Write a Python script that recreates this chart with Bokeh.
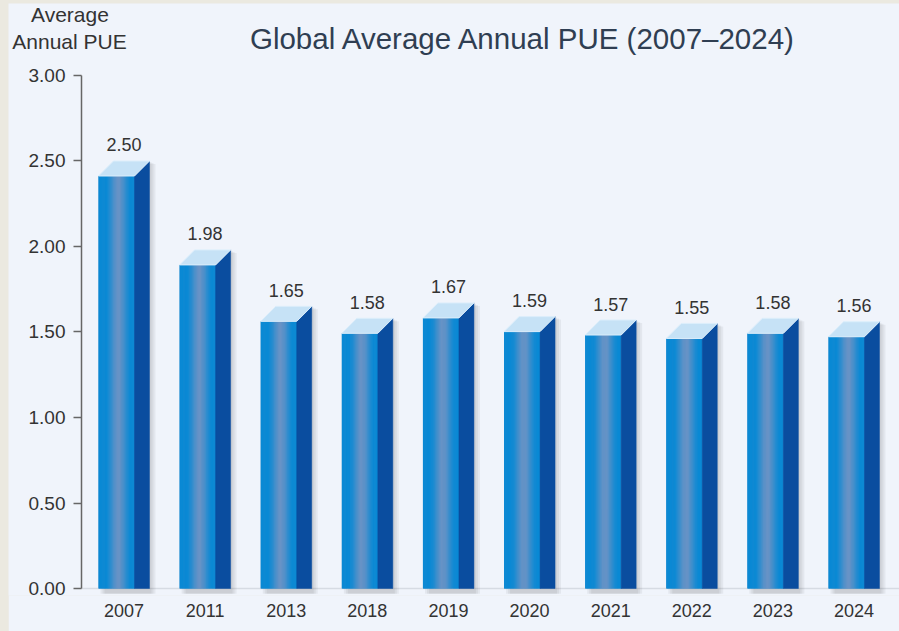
from bokeh.plotting import figure
from bokeh.models import FixedTicker, NumeralTickFormatter
from bokeh.embed import file_html
from bokeh.resources import INLINE
from bokeh.core.properties import value

# ---- data ----
years = ["2007", "2011", "2013", "2018", "2019", "2020", "2021", "2022", "2023", "2024"]
pue = [2.50, 1.98, 1.65, 1.58, 1.67, 1.59, 1.57, 1.55, 1.58, 1.56]
y_ticks = [0.0, 0.5, 1.0, 1.5, 2.0, 2.5, 3.0]
title_text = "Global Average Annual PUE (2007\u20132024)"
y_title_lines = ["Average", "Annual PUE"]

# ---- layout ----
W, H = 891, 628
MB_B = 36
X0, X1 = -1.424, 9.561
Y0, Y1 = -0.0409, 3.421
AXIS_X = -0.524
FONT = "Liberation Sans"
BG = "#F0F4FB"

p = figure(width=W, height=H, x_range=(X0, X1), y_range=(Y0, Y1),
           output_backend="svg", toolbar_location=None,
           min_border_left=0, min_border_right=0,
           min_border_top=0, min_border_bottom=MB_B)
p.background_fill_color = BG
p.border_fill_color = BG
p.outline_line_color = None
p.grid.visible = False

px_x = W / (X1 - X0)            # pixels per x unit
px_y = (H - MB_B) / (Y1 - Y0)   # pixels per y unit

def ux(px):
    return px / px_x

def uy(px):
    return px / px_y

xs = list(range(len(years)))
front_l = ux(-25.5)
front_r = ux(10.5)
depth_x = ux(15)
depth_y = uy(15)

# baseline shadow line
p.line(x=[AXIS_X, X1], y=[0, 0], line_color="#D6DBE3", line_width=1.5)

# soft shadows
for sx, sy in [(2, 1), (4, 2), (6, 3)]:
    sxs, sys_ = [], []
    for c, v in zip(xs, pue):
        L = c + front_l + ux(sx)
        R = c + front_r + depth_x + ux(sx)
        top = v - uy(sy)
        sxs.append([L, L, L + depth_x, R, R])
        sys_.append([-0.03, top - depth_y, top, top, -0.03])
    p.patches(xs=sxs, ys=sys_, fill_color="black", fill_alpha=0.05, line_color=None)

# front faces: base + gradient strips
bright = (10, 137, 212)
muted = (104, 147, 198)

def front_color(t):
    w = max(0.0, 1.0 - abs(t - 0.55) / 0.36)
    w = w * w * (3 - 2 * w)
    r, g, b = [int(round(a + (m - a) * w)) for a, m in zip(bright, muted)]
    return "#%02x%02x%02x" % (r, g, b)

p.quad(left=[c + front_l for c in xs], right=[c + front_r for c in xs],
       bottom=[0] * len(xs), top=[v - depth_y for v in pue],
       fill_color="#3A8CCB", line_color=None)

N = 30
ql, qr, qb, qt, qc = [], [], [], [], []
for c, v in zip(xs, pue):
    L = c + front_l
    step = (front_r - front_l) / N
    for k in range(N):
        ql.append(L + k * step)
        qr.append(L + (k + 1) * step + step * 0.3)
        qb.append(0)
        qt.append(v - depth_y)
        qc.append(front_color((k + 0.5) / N))
p.quad(left=ql, right=qr, bottom=qb, top=qt, fill_color=qc, line_color=None)

# side and top faces
side_xs, side_ys, top_xs, top_ys = [], [], [], []
for c, v in zip(xs, pue):
    L = c + front_l
    M = c + front_r
    side_xs.append([M, M, M + depth_x, M + depth_x])
    side_ys.append([0, v - depth_y, v, 0])
    top_xs.append([L, M, M + depth_x, L + depth_x])
    top_ys.append([v - depth_y, v - depth_y, v, v])
p.patches(xs=side_xs, ys=side_ys, fill_color="#0A4D9F", line_color="#0A4D9F", line_width=0.5)
p.patches(xs=top_xs, ys=top_ys, fill_color="#C6E2F6", line_color="#DCEEFB", line_width=1)

# value labels
p.text(x=xs, y=[v + uy(16) for v in pue], text=["%.2f" % v for v in pue],
       text_align="center", text_baseline="middle",
       text_font=value(FONT), text_font_size="18px", text_color="#333333")

# y axis, fixed inside the frame
yax = p.yaxis[0]
yax.fixed_location = AXIS_X
yax.ticker = FixedTicker(ticks=y_ticks)
yax.formatter = NumeralTickFormatter(format="0.00")
yax.bounds = (0, 3)
yax.major_tick_in = 0
yax.major_tick_out = 8
yax.minor_tick_line_color = None
yax.axis_line_color = "#666666"
yax.axis_line_width = 1.5
yax.major_tick_line_color = "#666666"
yax.major_tick_line_width = 1.5
yax.major_label_text_font = FONT
yax.major_label_text_font_size = "19px"
yax.major_label_text_color = "#333333"
yax.major_label_standoff = 8

xax = p.xaxis[0]
xax.ticker = FixedTicker(ticks=xs)
xax.major_label_overrides = {i: y for i, y in zip(xs, years)}
xax.axis_line_color = None
xax.major_tick_line_color = None
xax.minor_tick_line_color = None
xax.major_label_text_font = FONT
xax.major_label_text_font_size = "18px"
xax.major_label_text_color = "#333333"
xax.major_label_standoff = 2

# titles as text
p.text(x=[4.926], y=[3.158 + uy(10)], text=[title_text], text_align="center",
       text_baseline="alphabetic", text_font=value(FONT),
       text_font_size="29.5px", text_color="#2F3E52")
p.text(x=[-0.666, -0.672], y=[3.31 + uy(8), 3.152 + uy(8)], text=y_title_lines,
       text_align="center", text_baseline="alphabetic", text_font=value(FONT),
       text_font_size="21px", text_color="#333333")

html = file_html(p, INLINE)
html = html.replace("<head>", "<head><style>body{background:#EBE9E0 !important;"
                    "padding:3px 0 0 8px !important;}</style>", 1)
open("out.html", "w").write(html)
